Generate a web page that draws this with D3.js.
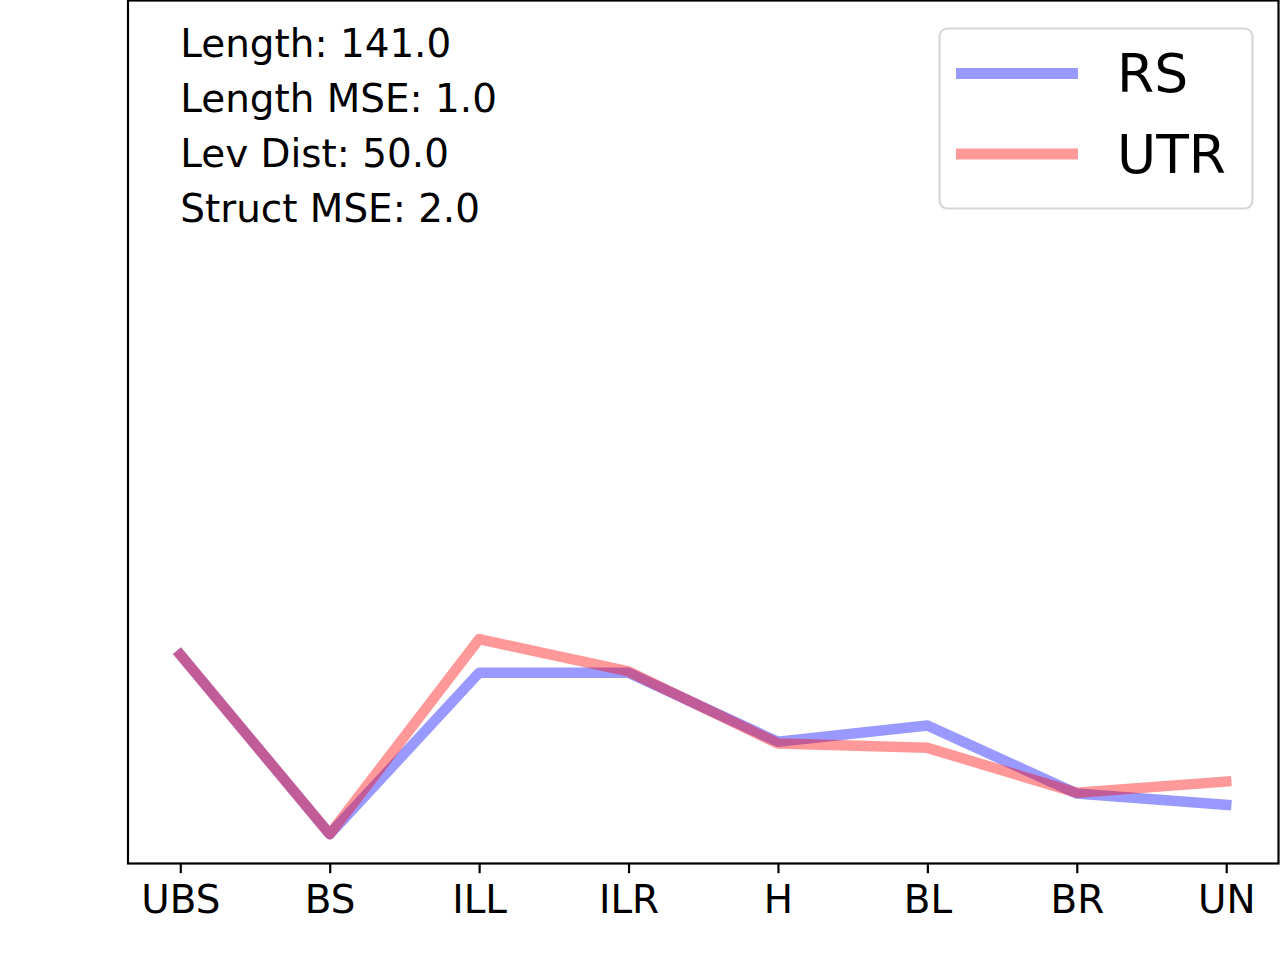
<!DOCTYPE html>
<html>
<head>
<meta charset="utf-8">
<script src="https://cdn.jsdelivr.net/npm/d3@7"></script>
<style>
  html, body { margin: 0; padding: 0; background: #fff; }
  svg { display: block; }
  text { font-family: "DejaVu Sans", sans-serif; fill: #000; }
</style>
</head>
<body>
<svg id="chart" width="1280" height="960"></svg>
<script>
// ---- data ----
const categories = ["UBS", "BS", "ILL", "ILR", "H", "BL", "BR", "UN"];
const rsValues  = [24.2, 3.4, 22.1, 22.1, 14.1, 16.0, 8.1, 6.8];
const utrValues = [24.2, 3.4, 26.0, 22.25, 13.9, 13.4, 8.2, 9.5];
const seriesNames = ["RS", "UTR"];
const seriesColors = ["#0000ff", "#ff0000"];
const infoLines = ["Length: 141.0", "Length MSE: 1.0", "Lev Dist: 50.0", "Struct MSE: 2.0"];
const yDomain = [0, 100];

// ---- layout ----
const svg = d3.select("#chart");
const plotLeft = 128, plotRight = 1278.5, plotTop = 0.5, plotBottom = 863.5;

const x = d3.scalePoint().domain(categories).range([plotLeft, plotRight]).padding(0.35);
const y = d3.scaleLinear().domain(yDomain).range([plotBottom, plotTop]);

const series = [
  { name: seriesNames[0], color: seriesColors[0], values: rsValues },
  { name: seriesNames[1], color: seriesColors[1], values: utrValues }
];

const line = d3.line()
  .x((d, i) => x(categories[i]))
  .y(d => y(d));

svg.selectAll("path.series")
  .data(series)
  .enter().append("path")
  .attr("class", "series")
  .attr("d", d => line(d.values))
  .attr("fill", "none")
  .attr("stroke", d => d.color)
  .attr("stroke-opacity", 0.4)
  .attr("stroke-width", 10.5)
  .attr("stroke-linejoin", "round")
  .attr("stroke-linecap", "square");

// frame (spines)
svg.append("rect")
  .attr("x", plotLeft).attr("y", plotTop)
  .attr("width", plotRight - plotLeft).attr("height", plotBottom - plotTop)
  .attr("fill", "none").attr("stroke", "#000").attr("stroke-width", 2.2);

// x axis
const xAxis = d3.axisBottom(x).tickSize(9.7).tickPadding(9);
const gx = svg.append("g").attr("transform", `translate(0,${plotBottom})`).call(xAxis);
gx.select(".domain").remove();
gx.selectAll(".tick line").attr("stroke", "#000").attr("stroke-width", 2.2);
gx.selectAll(".tick text")
  .attr("font-size", 38.9)
  .attr("font-family", "DejaVu Sans")
  .attr("fill", "#000")
  .attr("dy", null)
  .attr("y", 49.5);

// info text
svg.append("g").selectAll("text")
  .data(infoLines)
  .enter().append("text")
  .attr("x", x(categories[0]))
  .attr("y", (d, i) => 56.8 + i * 55.1)
  .attr("font-size", 38.9)
  .text(d => d);

// legend
const lg = svg.append("g");
lg.append("rect")
  .attr("x", 939.5).attr("y", 28.5)
  .attr("width", 313).attr("height", 180)
  .attr("rx", 8).attr("ry", 8)
  .attr("fill", "#fff").attr("fill-opacity", 0.8)
  .attr("stroke", "#d6d6d6").attr("stroke-width", 2.2);

const items = lg.selectAll("g.item")
  .data(series)
  .enter().append("g")
  .attr("class", "item")
  .attr("transform", (d, i) => `translate(0,${73.5 + i * 80.5})`);
items.append("line")
  .attr("x1", 956).attr("x2", 1078)
  .attr("y1", 0).attr("y2", 0)
  .attr("stroke", d => d.color)
  .attr("stroke-opacity", 0.4)
  .attr("stroke-width", 11);
items.append("text")
  .attr("x", 1117)
  .attr("y", 18.5)
  .attr("font-size", 53.5)
  .text(d => d.name);
</script>
</body>
</html>
